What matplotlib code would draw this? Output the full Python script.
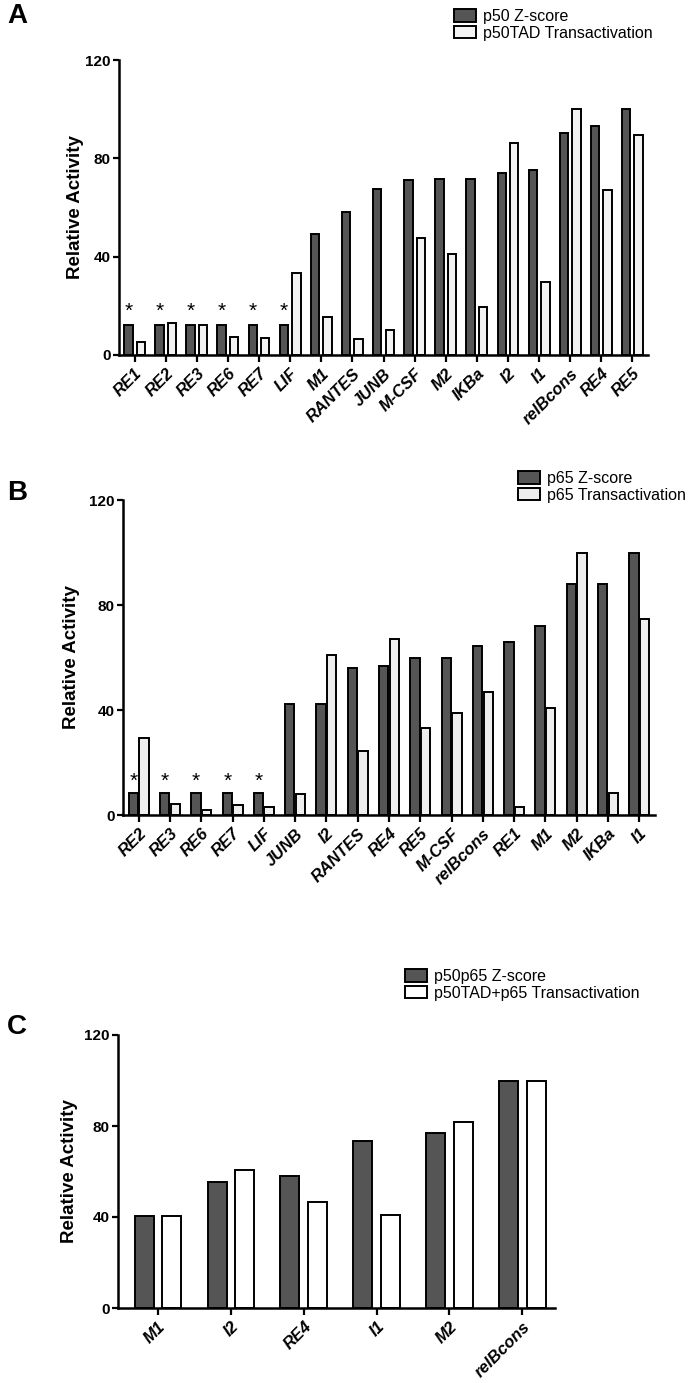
import matplotlib
matplotlib.use("Agg")
import matplotlib.pyplot as plt
import numpy as np

# ---------------- data ----------------
a_labels = ['RE1', 'RE2', 'RE3', 'RE6', 'RE7', 'LIF', 'M1', 'RANTES', 'JUNB', 'M-CSF',
            'M2', 'IKBa', 'I2', 'I1', 'relBcons', 'RE4', 'RE5']
a_zscore = [12.2, 12.2, 12.2, 12.2, 12.2, 12.2, 49.2, 58.3, 67.7, 71.1,
            71.5, 71.5, 73.9, 75.3, 90.2, 93.2, 100]
a_trans = [5.4, 13.2, 12.2, 7.5, 6.8, 33.5, 15.6, 6.5, 10.2, 47.7,
           41.0, 19.5, 86.4, 29.7, 100, 67.1, 89.4]
a_star = ['RE1', 'RE2', 'RE3', 'RE6', 'RE7', 'LIF']
a_series = ['p50 Z-score', 'p50TAD Transactivation']

b_labels = ['RE2', 'RE3', 'RE6', 'RE7', 'LIF', 'JUNB', 'I2', 'RANTES', 'RE4', 'RE5',
            'M-CSF', 'relBcons', 'RE1', 'M1', 'M2', 'IKBa', 'I1']
b_zscore = [8.5, 8.5, 8.5, 8.5, 8.5, 42.2, 42.2, 55.9, 56.8, 59.7,
            59.7, 64.4, 66.0, 72.1, 87.9, 87.9, 100]
b_trans = [29.2, 4.1, 1.8, 3.8, 3.0, 7.9, 61.0, 24.4, 66.9, 33.3,
           39.0, 47.0, 3.2, 40.6, 100, 8.5, 74.5]
b_star = ['RE2', 'RE3', 'RE6', 'RE7', 'LIF']
b_series = ['p65 Z-score', 'p65 Transactivation']

c_labels = ['M1', 'I2', 'RE4', 'I1', 'M2', 'relBcons']
c_zscore = [40.3, 55.3, 58.2, 73.5, 77.1, 100]
c_trans = [40.6, 60.7, 46.5, 40.9, 81.9, 100]
c_series = ['p50p65 Z-score', 'p50TAD+p65 Transactivation']

y_ticks = [0, 40, 80, 120]
y_label = 'Relative Activity'

# ---------------- style ----------------
W, H = 700, 1383
fig = plt.figure(figsize=(W / 100, H / 100), dpi=100)

DARK = '#555555'
SANS = ['Liberation Sans', 'DejaVu Sans']


def fx(px):
    return px / W


def fy(px):
    return 1 - px / H


def panel(rect, labels, z, t, stars, series, light, width, off, xlim,
          legend_xy, letter, letter_y, ylabel_x, star_off):
    ax = fig.add_axes(rect)
    x = np.arange(len(labels))
    b1 = ax.bar(x - off, z, width, color=DARK, edgecolor='black', linewidth=1.4,
                label=series[0], zorder=2)
    b2 = ax.bar(x + off, t, width, color=light, edgecolor='black', linewidth=1.4,
                label=series[1], zorder=2)
    for i, lab in enumerate(labels):
        if lab in stars:
            ax.annotate('*', (x[i] - off, z[i]), xytext=(0, star_off),
                        textcoords='offset pixels', ha='center', va='center',
                        fontsize=15, family=SANS)
    ax.set_xlim(*xlim)
    ax.set_ylim(0, 120)
    ax.set_yticks(y_ticks)
    ax.set_yticklabels([str(v) for v in y_ticks], family=SANS,
                       fontweight='bold', fontsize=11)
    ax.set_xticks(x)
    ax.set_xticklabels(labels, rotation=45, ha='right', va='top',
                       rotation_mode='anchor', fontsize=12, fontweight='bold',
                       fontstyle='italic', family=SANS)
    for s in ['top', 'right']:
        ax.spines[s].set_visible(False)
    for s in ['left', 'bottom']:
        ax.spines[s].set_linewidth(1.8)
        ax.spines[s].set_zorder(3)
    ax.tick_params(axis='both', direction='out', length=4, width=1.6, pad=2)
    ax.tick_params(axis='x', length=5, pad=3)
    ax.set_ylabel(y_label, fontsize=13.5, fontweight='bold', family=SANS,
                  va='center', ha='center')
    ax.yaxis.set_label_coords(fx(ylabel_x), 0.5 * (2 * rect[1] + rect[3]),
                              transform=fig.transFigure)
    ax.legend(handles=[b1, b2], loc='upper left', frameon=False,
              bbox_to_anchor=(fx(legend_xy[0]), fy(legend_xy[1])),
              bbox_transform=fig.transFigure,
              prop={'family': SANS, 'size': 11.5},
              handlelength=1.35, handleheight=0.8, handletextpad=0.45,
              labelspacing=0.12, borderpad=0, borderaxespad=0)
    fig.text(fx(7), fy(letter_y), letter, fontsize=20, fontweight='bold',
             family=SANS, ha='left', va='center')
    return ax


# Panel A
panel([fx(119), fy(355), fx(648) - fx(119), 295 / H],
      a_labels, a_zscore, a_trans, a_star, a_series, '#f2f2f2',
      0.27, 0.2, (-0.5, 16.5), (454, 9), 'A', 16, 76, 14)

# Panel B
panel([fx(123), fy(815), fx(655) - fx(123), 315 / H],
      b_labels, b_zscore, b_trans, b_star, b_series, '#eeeeee',
      0.3, 0.17, (-0.5, 16.5), (518, 471), 'B', 493, 72, 11)

# Panel C
panel([fx(118), fy(1308), fx(555) - fx(118), 273 / H],
      c_labels, c_zscore, c_trans, [], c_series, 'white',
      0.26, 0.19, (-0.55, 5.45), (405, 969), 'C', 1027, 70, 10)

fig.savefig('out.png', dpi=100)
